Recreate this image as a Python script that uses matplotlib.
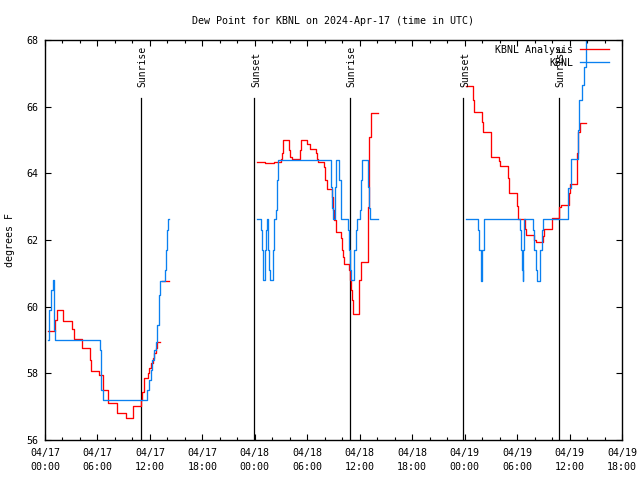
"""Dew point chart for KBNL, station obs against analysis, with sunrise/sunset marks
"""
from datetime import datetime, timedelta

import matplotlib
matplotlib.use('Agg')
import matplotlib.dates as mdates
import matplotlib.pyplot as plt
import numpy as np

# Data: hours after 2024-04-17 00:00 UTC, dew point in F (step series, NaN = gap)
analysis_hours = [
    0.38, 1.15, 1.40, 2.10, 3.06, 3.29, 4.20, 5.15, 5.27, 6.21, 6.66, 7.17,
    8.21, 9.27, 10.03, 10.98, 11.07, 11.27, 11.75, 11.92, 12.11, 12.31,
    12.51, 12.71, 12.86, 13.05, 13.2, 13.35, 14.1, 14.2,
    24.29, 25.17, 26.20, 26.97, 27.08, 27.27, 27.95, 28.03, 28.23, 29.18,
    29.29, 30.01, 30.32, 30.96, 31.08, 31.27, 31.93, 32.04, 32.30, 32.88,
    32.99, 33.11, 33.26, 33.87, 33.95, 34.06, 34.25, 34.78, 34.90, 35.01,
    35.13, 35.28, 35.96, 36.12, 36.99, 37.11, 37.26, 37.99, 38.1,
    48.17, 48.93, 49.08, 49.96, 50.07, 51.0, 51.95, 52.06, 52.94, 53.09,
    53.97, 54.16, 54.92, 55.03, 55.95, 56.14, 56.91, 57.10, 57.98, 58.85,
    59.04, 59.96, 60.07, 60.83, 61.02, 61.22, 61.86,
]
analysis_dewp = [
    59.27, 59.6, 59.9, 59.57, 59.32, 59.02, 58.75, 58.4, 58.07, 57.95, 57.5,
    57.1, 56.8, 56.65, 57.02, 57.2, 57.45, 57.85, 58.0, 58.15, 58.3, 58.45,
    58.6, 58.75, 58.95, 58.95, np.nan, 60.77, 60.77, np.nan,
    64.33, 64.3, 64.33, 64.42, 64.6, 65.0, 64.7, 64.5, 64.42, 64.7, 65.0,
    64.88, 64.72, 64.6, 64.42, 64.33, 64.2, 63.8, 63.52, 63.3, 62.9, 62.6,
    62.25, 62.05, 61.7, 61.5, 61.28, 61.1, 60.8, 60.5, 60.2, 59.78, 60.8,
    61.35, 63.0, 65.1, 65.8, 65.8, np.nan,
    66.62, 66.2, 65.83, 65.55, 65.23, 64.48, 64.38, 64.22, 63.85, 63.42,
    63.02, 62.63, 62.32, 62.15, 62.0, 61.93, 62.13, 62.32, 62.65, 63.0,
    63.05, 63.4, 63.68, 64.6, 65.25, 65.5, 65.5,
]

obs_hours = [
    0.38, 0.46, 0.71, 0.86, 1.06, 1.20, 6.29, 6.36, 6.46, 6.61, 11.71, 11.90,
    12.08, 12.28, 12.47, 12.66, 12.86, 13.05, 13.15, 13.23, 13.35, 13.69,
    13.80, 13.93, 14.04, 14.1, 14.2,
    24.29, 24.68, 24.78, 24.90, 24.98, 25.17, 25.28, 25.36, 25.55, 25.67,
    25.75, 26.02, 26.12, 26.24, 26.43, 26.58, 26.70, 32.61, 32.72, 32.88,
    32.99, 33.19, 33.30, 33.68, 33.83, 34.52, 34.64, 34.78, 34.90, 35.01,
    35.28, 35.40, 35.55, 35.67, 35.96, 36.04, 36.16, 36.27, 36.88, 36.92,
    37.07, 37.18, 37.95, 38.1,
    48.17, 49.58, 49.70, 49.82, 49.89, 50.04, 50.23, 54.35, 54.47, 54.58,
    54.65, 54.73, 54.84, 55.87, 55.99, 56.14, 56.26, 56.56, 56.64, 56.83,
    56.95, 59.88, 60.15, 60.91, 61.10, 61.41, 61.68, 61.86, 61.99,
]
obs_dewp = [
    59.0, 59.9, 60.5, 60.8, 59.3, 59.0, 58.7, 58.1, 57.5, 57.2, 57.5, 57.8,
    58.1, 58.4, 58.7, 58.95, 59.45, 60.35, 60.78, 60.78, 60.78, 61.1, 61.7,
    62.3, 62.63, 62.63, np.nan,
    62.62, 62.3, 61.7, 61.1, 60.8, 61.7, 62.3, 62.62, 61.7, 61.1, 60.8,
    60.8, 61.7, 62.62, 62.9, 63.8, 64.4, 64.4, 63.6, 62.95, 62.62, 63.6,
    64.4, 63.8, 62.62, 62.62, 62.3, 61.7, 61.1, 60.8, 60.8, 61.7, 62.3,
    62.62, 62.62, 62.9, 63.8, 64.4, 64.4, 63.6, 62.95, 62.62, 62.62, np.nan,
    62.62, 62.3, 61.7, 61.1, 60.78, 61.7, 62.62, 62.3, 61.7, 61.1, 60.78,
    61.7, 62.62, 62.3, 61.7, 61.1, 60.78, 60.78, 61.7, 62.3, 62.62, 63.55,
    64.42, 65.3, 66.2, 66.65, 67.2, 68.5, 68.5,
]

sunrise_hours = [10.98, 34.9, 58.81]
sunset_hours = [23.95, 47.85]

start = datetime(2024, 4, 17)


def to_times(hours):
    return [start + timedelta(hours=h) for h in hours]


plt.rcParams['font.family'] = 'DejaVu Sans Mono'
plt.rcParams['font.size'] = 7.2

fig = plt.figure(figsize=(6.4, 4.8), dpi=100)
ax = fig.add_axes([45 / 640, 40 / 480, 577 / 640, 400 / 480])

ax.step(to_times(analysis_hours), analysis_dewp, where='post',
        color='#ff0000', lw=0.95, label='KBNL Analysis')
ax.step(to_times(obs_hours), obs_dewp, where='post',
        color='#0a80f0', lw=0.95, label='KBNL')

# Sunrise / sunset markers
for name, hrs in (('Sunrise', sunrise_hours), ('Sunset', sunset_hours)):
    for t in to_times(hrs):
        ax.plot([t, t], [56, 66.25], color='black', lw=0.9, zorder=1)
        ax.annotate(name, (t, 66.25), xytext=(1.2, 8), textcoords='offset points',
                    rotation=90, ha='center', va='bottom', fontsize=7.0)

ax.set_xlim(start, start + timedelta(hours=66))
ax.set_ylim(56, 68)
ax.xaxis.set_major_locator(mdates.HourLocator(byhour=[0, 6, 12, 18]))
ax.xaxis.set_minor_locator(mdates.HourLocator(interval=2))
ax.xaxis.set_major_formatter(mdates.DateFormatter('%m/%d\n%H:%M'))
ax.set_yticks(np.arange(56, 69, 2))

ax.tick_params(which='both', direction='in', top=True, right=True, width=0.8)
ax.tick_params(which='major', length=4.5)
ax.tick_params(which='minor', length=2.5)
ax.tick_params(axis='x', pad=6)
ax.tick_params(axis='y', pad=5)
for lbl in ax.get_xticklabels():
    lbl.set_linespacing(1.5)
for s in ax.spines.values():
    s.set_linewidth(1.0)

ax.set_ylabel('degrees F', labelpad=8)
ax.set_title('Dew Point for KBNL on 2024-Apr-17 (time in UTC)', pad=11.5, fontsize=7.2)

ax.legend(loc='upper right', bbox_to_anchor=(0.983, 0.995), frameon=False,
          markerfirst=False, handlelength=2.9, handletextpad=0.7,
          labelspacing=0.3, borderaxespad=0, borderpad=0.3)

plt.savefig('out.png', dpi=100)
